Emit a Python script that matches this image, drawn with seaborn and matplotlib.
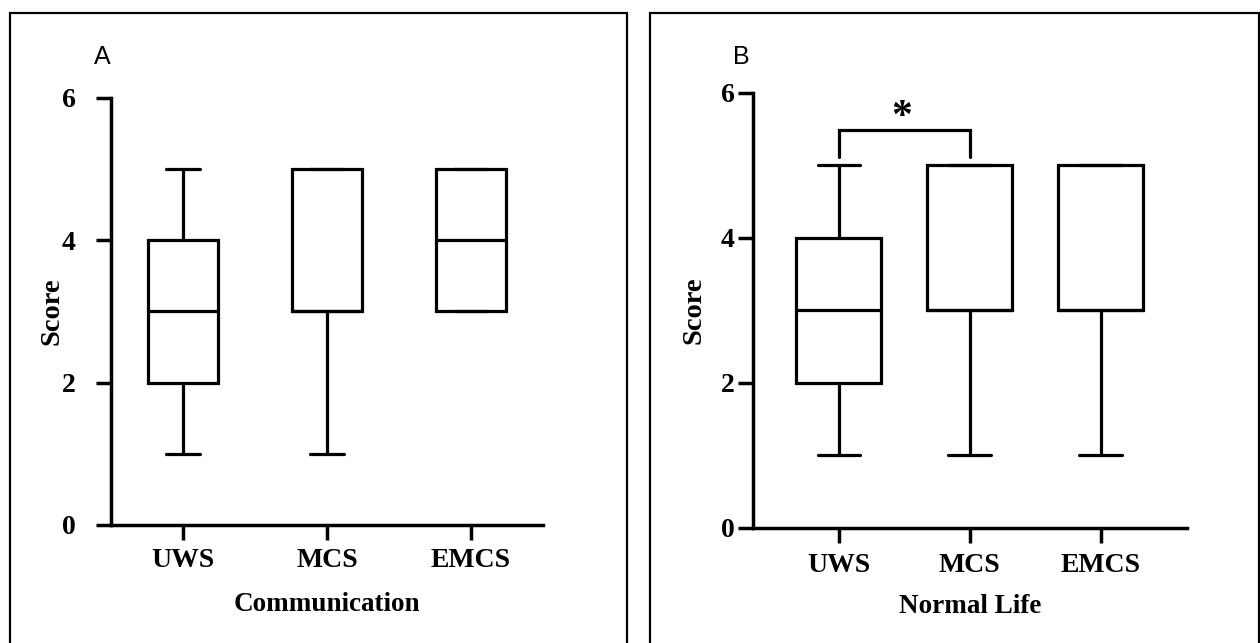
import matplotlib
matplotlib.use("Agg")
import matplotlib.pyplot as plt
import seaborn as sns
import pandas as pd
from matplotlib.lines import Line2D

# ---------------- data ----------------
groups = ["UWS", "MCS", "EMCS"]
# individual scores per group (read from box/whisker positions)
comm_uws = [1, 2, 3, 4, 5]
comm_mcs = [1, 3, 3, 3, 5, 5, 5]
comm_emcs = [3, 3, 4, 5, 5]
life_uws = [1, 2, 3, 4, 5]
life_mcs = [1, 3, 3, 3, 5, 5, 5]
life_emcs = [1, 3, 3, 3, 5, 5, 5]
y_ticks = [0, 2, 4, 6]
panel_titles = ["A", "B"]
x_titles = ["Communication", "Normal Life"]
y_title = "Score"
sig_pair = ("UWS", "MCS")
sig_label = "*"


def to_long(lists):
    rows = []
    for g, vals in zip(groups, lists):
        for v in vals:
            rows.append({"group": g, "score": v})
    return pd.DataFrame(rows)


df_comm = to_long([comm_uws, comm_mcs, comm_emcs])
df_life = to_long([life_uws, life_mcs, life_emcs])

sns.set_style("ticks")
plt.rcParams["font.family"] = ["Liberation Serif", "DejaVu Serif"]

W, H = 1260, 643
fig = plt.figure(figsize=(W / 100, H / 100), dpi=100)


def px_axes(l, r, t, b):
    return fig.add_axes([l / W, 1 - b / H, (r - l) / W, (b - t) / H])


def style_axis(ax, xlim, ypad, xpad, xlabel, ylabel_x, xlabel_y):
    ax.set_xlim(*xlim)
    ax.set_ylim(0, 6)
    ax.set_yticks(y_ticks)
    ax.set_yticklabels([str(t) for t in y_ticks])
    sns.despine(ax=ax)
    for s in ("left", "bottom"):
        ax.spines[s].set_linewidth(2.5)
        ax.spines[s].set_color("black")
    ax.tick_params(axis="y", length=10.5, width=2.5, pad=ypad, labelsize=20,
                   color="black", labelcolor="black")
    ax.tick_params(axis="x", length=11, width=2.5, pad=xpad, labelsize=20,
                   color="black", labelcolor="black")
    for lab in ax.get_xticklabels() + ax.get_yticklabels():
        lab.set_fontweight("bold")
    ax.set_xlabel(xlabel, fontsize=19.5, fontweight="bold", color="black")
    ax.set_ylabel(y_title, fontsize=20.5, fontweight="bold", color="black")
    ax.yaxis.label.set_va("center")
    ax.xaxis.label.set_va("center")
    ax.yaxis.set_label_coords(ylabel_x, 0.5)
    ax.xaxis.set_label_coords(0.5, xlabel_y)
    ax.set_facecolor("white")


box_kw = dict(x="group", y="score", order=groups, whis=(0, 100),
              color="white", linecolor="black", linewidth=2.3, showfliers=False)

# Panel A
axA = px_axes(111, 543, 97.5, 525)
sns.boxplot(data=df_comm, width=0.48, ax=axA, **box_kw)
style_axis(axA, (-0.5, 2.5), 15, 5.5, x_titles[0], -0.137, -0.185)

# Panel B
axB = px_axes(752.5, 1187, 93, 527.5)
sns.boxplot(data=df_life, width=0.65, ax=axB, **box_kw)
style_axis(axB, (-0.66, 2.66), 2.5, 7, x_titles[1], -0.135, -0.182)

# significance bracket on panel B
i0, i1 = groups.index(sig_pair[0]), groups.index(sig_pair[1])
axB.plot([i0, i0, i1, i1], [5.12, 5.49, 5.49, 5.12], color="black", lw=2.3,
         clip_on=False, solid_joinstyle="miter")
axB.text((i0 + i1) / 2 - 0.02, 5.66, sig_label, ha="center", va="center",
         fontsize=30, fontweight="bold", color="black")

# panel letters
fig.text(102 / W, 1 - 57 / H, panel_titles[0], ha="center", va="center",
         fontsize=18, family=["Liberation Sans", "DejaVu Sans"], color="black")
fig.text(741 / W, 1 - 57 / H, panel_titles[1], ha="center", va="center",
         fontsize=18, family=["Liberation Sans", "DejaVu Sans"], color="black")

# panel frames
for (l, r) in [(9.5, 627), (650, 1258.5)]:
    xs = [l / W, l / W, r / W, r / W]
    ys = [1 - 660 / H, 1 - 13 / H, 1 - 13 / H, 1 - 660 / H]
    fig.add_artist(Line2D(xs, ys, transform=fig.transFigure, color="black",
                          lw=1.6, solid_joinstyle="miter"))

fig.savefig("out.png", dpi=100, facecolor="white")
